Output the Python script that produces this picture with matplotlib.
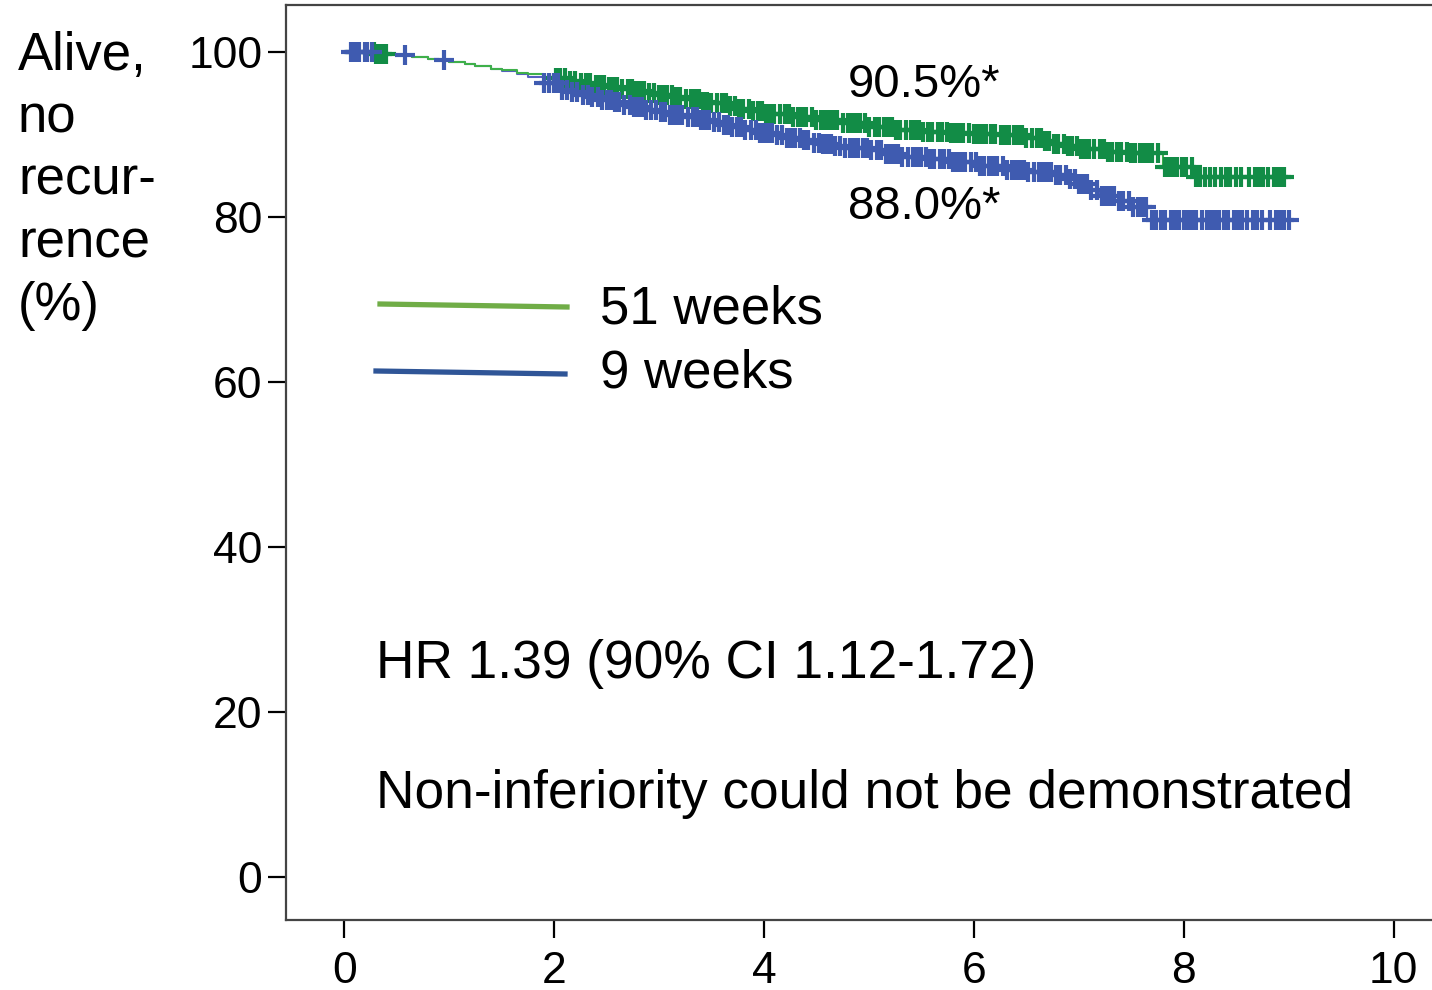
import matplotlib
matplotlib.use("Agg")
import matplotlib.pyplot as plt
from matplotlib.lines import Line2D
import numpy as np

plt.rcParams['font.family'] = ['Liberation Sans', 'DejaVu Sans']

# Kaplan-Meier steps (years, % alive without recurrence)
t_51 = [0, 0.3, 0.5, 0.65, 0.8, 0.9, 1.0, 1.15, 1.25, 1.4, 1.5, 1.65, 1.75,
        1.9, 2.0, 2.15, 2.25, 2.4, 2.5, 2.65, 2.75, 2.9, 3.0, 3.15, 3.25, 3.4,
        3.5, 3.65, 3.75, 3.9, 4.0, 4.25, 4.5, 4.75, 5.0, 5.25, 5.5, 5.75, 6.0,
        6.25, 6.5, 6.65, 6.75, 6.9, 7.0, 7.25, 7.5, 7.8, 8.1, 9.03]
s_51 = [100, 99.8, 99.6, 99.4, 99.2, 99.0, 98.8, 98.5, 98.3, 98.0, 97.8, 97.5,
        97.3, 97.0, 96.8, 96.5, 96.3, 96.0, 95.8, 95.5, 95.3, 95.0, 94.8, 94.5,
        94.3, 94.0, 93.8, 93.4, 93.1, 92.8, 92.5, 92.1, 91.8, 91.4, 90.9, 90.6,
        90.3, 90.2, 90.1, 89.9, 89.6, 89.2, 88.9, 88.6, 88.3, 87.9, 87.8, 86.1,
        84.8, 84.8]

t_9 = [0, 0.3, 0.5, 0.65, 0.8, 0.9, 1.0, 1.15, 1.25, 1.4, 1.5, 1.65, 1.75,
       1.9, 2.05, 2.15, 2.25, 2.35, 2.45, 2.55, 2.65, 2.75, 2.85, 3.0, 3.1,
       3.25, 3.4, 3.5, 3.6, 3.7, 3.8, 3.95, 4.1, 4.2, 4.35, 4.45, 4.55, 4.65,
       4.75, 5.0, 5.15, 5.3, 5.55, 5.8, 6.05, 6.3, 6.5, 6.75, 6.9, 7.0, 7.1,
       7.2, 7.35, 7.5, 7.65, 9.05]
s_9 = [100, 99.8, 99.6, 99.4, 99.1, 99.0, 98.8, 98.5, 98.3, 98.0, 97.7, 97.3,
       97.0, 96.2, 95.4, 95.1, 94.8, 94.5, 94.2, 93.9, 93.6, 93.3, 93.0, 92.7,
       92.4, 92.1, 91.8, 91.5, 91.2, 90.9, 90.5, 90.2, 89.9, 89.6, 89.3, 89.0,
       88.8, 88.6, 88.4, 88.1, 87.7, 87.3, 87.0, 86.7, 86.2, 85.7, 85.4, 85.1,
       84.6, 84.0, 83.3, 82.6, 82.0, 81.2, 79.7, 79.7]

# censoring times
c_51 = [0.1, 0.28, 0.3, 0.33, 0.36, 0.4,
        2.02, 2.06, 2.1, 2.15, 2.2, 2.26, 2.3, 2.34, 2.4, 2.44, 2.48, 2.52,
        2.56, 2.6, 2.65, 2.7, 2.74, 2.78, 2.82, 2.86, 2.9, 2.95, 3.0, 3.04,
        3.08, 3.12, 3.16, 3.2, 3.26, 3.3, 3.34, 3.38, 3.42, 3.46, 3.5, 3.55,
        3.6, 3.64, 3.68, 3.72, 3.76, 3.8, 3.86, 3.9, 3.94, 3.98, 4.02, 4.06,
        4.1, 4.15, 4.2, 4.24, 4.28, 4.32, 4.36, 4.4, 4.46, 4.5, 4.54, 4.58,
        4.62, 4.66, 4.7, 4.75, 4.8, 4.84, 4.88, 4.92, 4.96, 5.0, 5.06, 5.1,
        5.14, 5.18, 5.22, 5.26, 5.3, 5.35, 5.4, 5.44, 5.48, 5.52, 5.56, 5.6,
        5.66, 5.7, 5.74, 5.78, 5.82, 5.86, 5.9, 5.95, 6.0, 6.04, 6.08, 6.12,
        6.16, 6.2, 6.26, 6.3, 6.34, 6.38, 6.42, 6.46, 6.5, 6.55, 6.6, 6.64,
        6.68, 6.72, 6.76, 6.8, 6.86, 6.9, 6.94, 6.98, 7.02, 7.06, 7.1, 7.15,
        7.2, 7.24, 7.28, 7.32, 7.36, 7.4, 7.46, 7.5, 7.54, 7.58, 7.62, 7.66,
        7.7, 7.76, 7.82, 7.86, 7.9, 7.94, 7.98, 8.02, 8.08, 8.12, 8.16, 8.2,
        8.25, 8.3, 8.36, 8.4, 8.44, 8.5, 8.55, 8.62, 8.68, 8.72, 8.76, 8.8,
        8.86, 8.9, 8.93, 8.96]
c_9 = [0.06, 0.09, 0.11, 0.14, 0.2, 0.22, 0.26, 0.58, 0.95, 1.9, 1.95,
       2.0, 2.04, 2.08, 2.12, 2.17, 2.22, 2.28, 2.32, 2.36, 2.42, 2.46, 2.5,
       2.54, 2.58, 2.62, 2.67, 2.72, 2.76, 2.8, 2.84, 2.88, 2.92, 2.97, 3.02,
       3.06, 3.1, 3.14, 3.18, 3.22, 3.28, 3.32, 3.36, 3.4, 3.44, 3.48, 3.52,
       3.57, 3.62, 3.66, 3.7, 3.74, 3.78, 3.82, 3.88, 3.92, 3.96, 4.0, 4.04,
       4.08, 4.12, 4.17, 4.22, 4.26, 4.3, 4.34, 4.38, 4.42, 4.48, 4.52, 4.56,
       4.6, 4.64, 4.68, 4.72, 4.77, 4.82, 4.86, 4.9, 4.94, 4.98, 5.02, 5.08,
       5.12, 5.16, 5.2, 5.24, 5.28, 5.32, 5.37, 5.42, 5.46, 5.5, 5.54, 5.58,
       5.62, 5.68, 5.72, 5.76, 5.8, 5.84, 5.88, 5.92, 5.97, 6.02, 6.06, 6.1,
       6.14, 6.18, 6.22, 6.28, 6.32, 6.36, 6.4, 6.44, 6.48, 6.52, 6.57, 6.62,
       6.66, 6.7, 6.74, 6.78, 6.82, 6.88, 6.92, 6.96, 7.0, 7.04, 7.08, 7.12,
       7.17, 7.22, 7.26, 7.3, 7.34, 7.38, 7.42, 7.48, 7.52, 7.56, 7.6, 7.64,
       7.7, 7.74, 7.78, 7.82, 7.88, 7.92, 7.96, 8.0, 8.04, 8.08, 8.12, 8.17,
       8.22, 8.26, 8.3, 8.34, 8.38, 8.42, 8.48, 8.52, 8.56, 8.6, 8.66, 8.7,
       8.75, 8.82, 8.88, 8.92, 8.96, 9.0]

green = '#128c46'
blue = '#3f5bb0'


def at(times, surv, c):
    idx = np.searchsorted(times, c, side='right') - 1
    return np.asarray(surv)[idx]


fig = plt.figure(figsize=(14.32, 9.9), dpi=100)
ax = fig.add_axes([286/1432, 70/990, 1160/1432, 915/990])

ax.plot(t_9, s_9, drawstyle='steps-post', color='#5560c0', lw=1.5, zorder=3)
ax.plot(t_51, s_51, drawstyle='steps-post', color='#3fb04a', lw=1.5, zorder=3)
ax.plot(c_51, at(t_51, s_51, c_51), '+', color=green, ms=14, mew=3, zorder=4)
ax.plot(c_9, at(t_9, s_9, c_9), '+', color=blue, ms=14, mew=3, zorder=4)

ax.set_xlim(-0.555, 10.5)
ax.set_ylim(-5.2, 105.7)
ax.set_xticks([0, 2, 4, 6, 8, 10])
ax.set_yticks([0, 20, 40, 60, 80, 100])
ax.tick_params(labelsize=32, length=13, width=1.6, color='black', pad=4)
ax.tick_params(axis='x', pad=9)
for sp in ax.spines.values():
    sp.set_color('#444444')
    sp.set_linewidth(1.6)
ax.spines['right'].set_visible(False)

ax.text(4.8, 90.5 + 5.5, '90.5%*', fontsize=34, va='center')
ax.text(4.8, 88.0 - 6.8, '88.0%*', fontsize=34, va='center')
ax.text(0.3, 25.8, 'HR 1.39 (90% CI 1.12-1.72)', fontsize=38.3, va='center')
ax.text(0.3, 10.1, 'Non-inferiority could not be demonstrated', fontsize=38.3,
        va='center')

# legend drawn by hand
fig.add_artist(Line2D([380/1432, 567/1432], [1 - 304/990, 1 - 307/990],
                      color='#70ad47', lw=3.8))
fig.add_artist(Line2D([376/1432, 565/1432], [1 - 371/990, 1 - 374/990],
                      color='#2f5597', lw=3.8))
fig.text(600/1432, 1 - 309/990, '51 weeks', fontsize=38, va='center')
fig.text(600/1432, 1 - 374/990, '9 weeks', fontsize=38, va='center')

fig.text(18/1432, 1 - 31/990, 'Alive,\nno\nrecur-\nrence\n(%)', fontsize=38,
         va='top', linespacing=1.32)

fig.savefig('out.png', dpi=100)
